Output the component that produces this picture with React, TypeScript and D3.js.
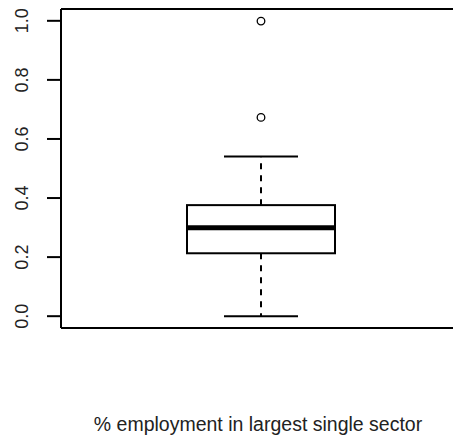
import React from "react";
import * as d3 from "d3";

const category = ["% employment in largest single sector"];
const stats = [{ min: 0.0, q1: 0.213, median: 0.299, q3: 0.376, max: 0.541 }];
const outliers = [0.999, 0.673];
const yTicks = [0, 0.2, 0.4, 0.6, 0.8, 1.0];

export default function App() {
  const W = 453, H = 439;
  const left = 61, top = 9, bottom = 328;
  const y = d3.scaleLinear().domain([-0.04, 1.04]).range([bottom, top]);
  const x = d3.scaleLinear().domain([0.5, 1.5]).range([168.5, 353.5]);
  const s = stats[0];
  const cx = x(1);
  const bw = x(1.4) - x(1);
  const cap = bw / 2;
  const font = "'Liberation Sans', Arial, Helvetica, sans-serif";
  return (
    <svg width={W} height={H} style={{ position: "fixed", left: 0, top: 0, background: "#fff" }}>
      <rect x={0} y={0} width={W} height={H} fill="#fff" />
      {/* plot frame */}
      <line x1={left} x2={W + 5} y1={top} y2={top} stroke="#000" strokeWidth={2} />
      <line x1={left} x2={W + 5} y1={bottom} y2={bottom} stroke="#000" strokeWidth={2} />
      <line x1={left} x2={left} y1={top} y2={bottom} stroke="#000" strokeWidth={2} />
      {/* y axis ticks */}
      {yTicks.map((t) => (
        <g key={t}>
          <line x1={left - 14} x2={left} y1={y(t)} y2={y(t)} stroke="#000" strokeWidth={2} />
          <text
            transform={`translate(27.5,${y(t)}) rotate(-90)`}
            textAnchor="middle"
            fontFamily={font}
            fontSize={18}
            fill="#222"
          >
            {t.toFixed(1)}
          </text>
        </g>
      ))}
      {/* whiskers */}
      <line x1={cx} x2={cx} y1={y(s.q3)} y2={y(s.max)} stroke="#000" strokeWidth={2} strokeDasharray="6,6" />
      <line x1={cx} x2={cx} y1={y(s.q1)} y2={y(s.min)} stroke="#000" strokeWidth={2} strokeDasharray="6,6" />
      <line x1={cx - cap} x2={cx + cap} y1={y(s.max)} y2={y(s.max)} stroke="#000" strokeWidth={2} />
      <line x1={cx - cap} x2={cx + cap} y1={y(s.min)} y2={y(s.min)} stroke="#000" strokeWidth={2} />
      {/* box */}
      <rect
        x={cx - bw}
        y={y(s.q3)}
        width={bw * 2}
        height={y(s.q1) - y(s.q3)}
        fill="none"
        stroke="#000"
        strokeWidth={2}
      />
      <line x1={cx - bw} x2={cx + bw} y1={y(s.median)} y2={y(s.median)} stroke="#000" strokeWidth={5} />
      {/* outliers */}
      {outliers.map((o, i) => (
        <circle key={i} cx={cx} cy={y(o)} r={3.8} fill="none" stroke="#000" strokeWidth={1.3} />
      ))}
      {/* x label */}
      <text x={258} y={431} textAnchor="middle" fontFamily={font} fontSize={19.5} fill="#222">
        {category[0]}
      </text>
    </svg>
  );
}
